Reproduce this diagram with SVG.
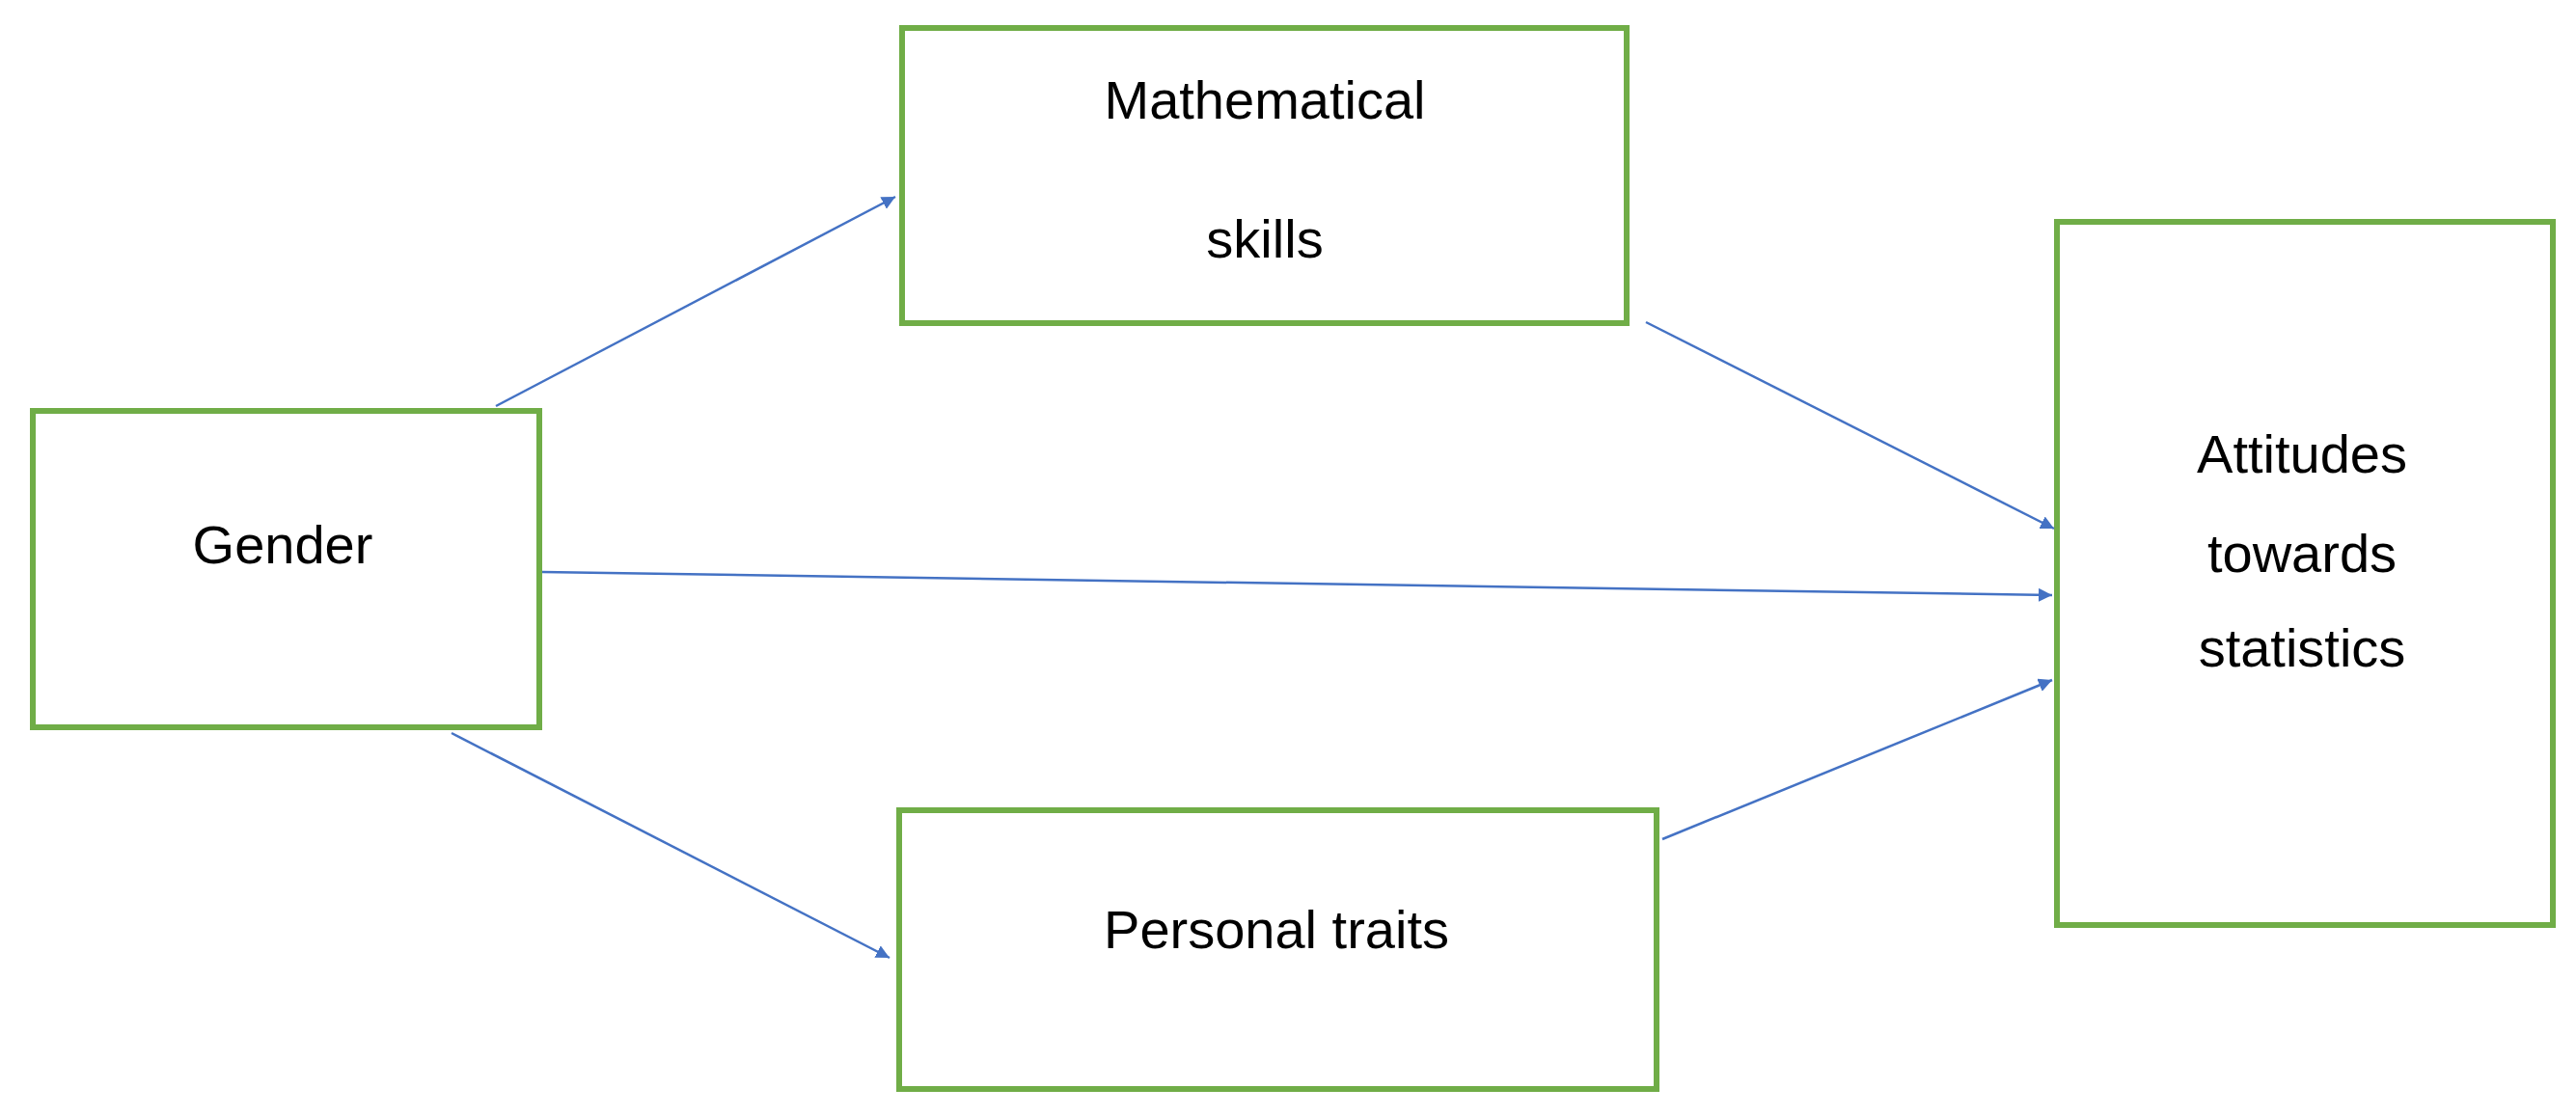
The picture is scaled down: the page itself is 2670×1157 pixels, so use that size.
<svg xmlns="http://www.w3.org/2000/svg" width="2670" height="1157" viewBox="0 0 2670 1157">
<style>
.box{fill:#fff;stroke:#70AD47;stroke-width:6}
.t{font-family:"Liberation Sans",Arial,sans-serif;font-size:56px;fill:#000;text-anchor:middle}
.c{stroke:#4472C4;stroke-width:2.5;fill:none;marker-end:url(#ah)}
</style>
<defs>
<marker id="ah" viewBox="0 0 10 10" refX="10" refY="5" markerWidth="14" markerHeight="14" markerUnits="userSpaceOnUse" orient="auto"><path d="M0,0 L10,5 L0,10 z" fill="#4472C4"/></marker>
</defs>
<rect width="2670" height="1157" fill="#fff"/>
<g id="math"><rect class="box" x="935" y="29" width="751" height="306"/><text class="t" x="1311" y="123">Mathematical</text><text class="t" x="1311" y="267">skills</text></g>
<g id="gender"><rect class="box" x="34" y="426" width="525" height="328"/><text class="t" x="293" y="584">Gender</text></g>
<g id="personal"><rect class="box" x="932" y="840" width="785" height="289"/><text class="t" x="1323" y="983">Personal traits</text></g>
<g id="attitudes"><rect class="box" x="2132" y="230" width="514" height="729"/><text class="t" x="2386" y="490">Attitudes</text><text class="t" x="2386" y="593">towards</text><text class="t" x="2386" y="691">statistics</text></g>
<g id="connectors">
<line class="c" x1="514" y1="421" x2="928" y2="204" marker-end="url(#ah)"/>
<line class="c" x1="1706" y1="334" x2="2129" y2="548"/>
<line class="c" x1="562" y1="593" x2="2127" y2="617"/>
<line class="c" x1="468" y1="760" x2="922" y2="993"/>
<line class="c" x1="1723" y1="870" x2="2127" y2="705"/>
</g>
</svg>
